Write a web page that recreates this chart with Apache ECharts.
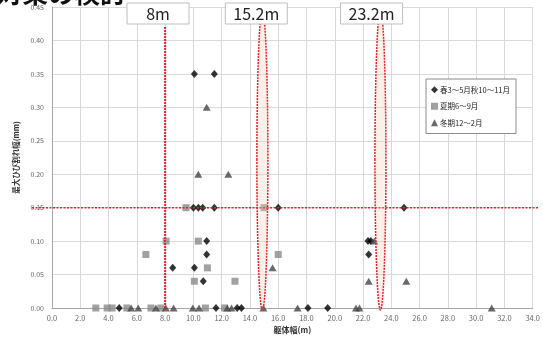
<!DOCTYPE html>
<html>
<head>
<meta charset="utf-8">
<script src="https://cdn.jsdelivr.net/npm/echarts@6/dist/echarts.min.js"></script>
<style>
  html, body { margin: 0; padding: 0; background: #fff; }
  #main { width: 543px; height: 340px; }
</style>
</head>
<body>
<div id="main"></div>
<script>
// 春・秋 (◆)
var springX = [10.07, 11.48, 10.0, 10.35, 10.66, 11.48, 16.0, 24.9, 10.94, 22.35, 22.55, 10.94, 22.4, 8.54, 10.07, 10.7, 4.75, 11.6, 13.1, 13.4, 18.1, 19.5];
var springY = [0.35, 0.35, 0.15, 0.15, 0.15, 0.15, 0.15, 0.15, 0.10, 0.10, 0.10, 0.08, 0.08, 0.06, 0.06, 0.04, 0, 0, 0, 0, 0, 0];
// 夏期 (■)
var summerX = [9.48, 15.0, 8.07, 10.35, 6.64, 16.0, 10.99, 10.07, 12.94, 3.1, 3.9, 4.25, 5.3, 7.0, 7.7, 10.85, 12.2];
var summerY = [0.15, 0.15, 0.10, 0.10, 0.08, 0.08, 0.06, 0.04, 0.04, 0, 0, 0, 0, 0, 0, 0, 0];
// 冬期 (▲)
var winterX = [10.94, 10.35, 12.47, 22.8, 15.6, 22.4, 25.06, 5.6, 6.1, 7.35, 8.05, 8.6, 9.96, 10.4, 12.4, 12.7, 14.95, 17.37, 21.5, 21.75, 31.1];
var winterY = [0.30, 0.20, 0.20, 0.10, 0.06, 0.04, 0.04, 0, 0, 0, 0, 0, 0, 0, 0, 0, 0, 0, 0, 0, 0];

var seriesNames = ['春3～5月秋10～11月', '夏期6～9月', '冬期12～2月'];
// 注記 (縦線・楕円の位置と見出し)
var markLabels = ['8m', '15.2m', '23.2m'];
var markLabelX = [7.5, 14.45, 22.6];
var lineX = 8;
var ellipseX = [14.88, 23.23];
var limitY = 0.15;

function zip(xs, ys) {
    return xs.map(function (x, i) { return [x, ys[i]]; });
}

var font = '"Noto Sans CJK JP", "Noto Sans", sans-serif';
var myChart = echarts.init(document.getElementById('main'));

var option = {
    animation: false,
    textStyle: { fontFamily: font },
    grid: { left: 52, right: 5, top: 7, bottom: 32 },
    legend: {
        orient: 'vertical',
        left: 426, top: 79,
        width: 100,
        backgroundColor: '#fff',
        borderColor: '#8c8c8c', borderWidth: 1,
        padding: [7, 6, 7, 5],
        itemGap: 9,
        itemWidth: 7, itemHeight: 7,
        textStyle: { fontSize: 7.5, color: '#222', padding: [0, 0, 0, -3] },
        data: [
            { name: seriesNames[0], icon: 'diamond' },
            { name: seriesNames[1], icon: 'rect' },
            { name: seriesNames[2], icon: 'triangle' }
        ]
    },
    xAxis: {
        type: 'value', min: 0, max: 34, interval: 2,
        name: '躯体幅(m)', nameLocation: 'middle', nameGap: 15,
        nameTextStyle: { fontSize: 8, fontWeight: 'bold', color: '#333' },
        axisLine: { lineStyle: { color: '#a6a6a6' } },
        axisTick: { show: false },
        axisLabel: { fontSize: 7.5, color: '#666', margin: 6, formatter: function (v) { return v.toFixed(1); } },
        splitLine: { lineStyle: { color: '#d9d9d9' } }
    },
    yAxis: {
        type: 'value', min: 0, max: 0.45, interval: 0.05,
        name: '最大ひび割れ幅(mm)', nameLocation: 'middle', nameGap: 31,
        nameTextStyle: { fontSize: 7.5, fontWeight: 'bold', color: '#333' },
        axisLine: { show: true, lineStyle: { color: '#a6a6a6' } },
        axisTick: { show: false },
        axisLabel: { fontSize: 7, color: '#666', margin: 8, formatter: function (v) { return v.toFixed(2); } },
        splitLine: { lineStyle: { color: '#d9d9d9' } }
    },
    series: [
        { name: seriesNames[0], type: 'scatter', symbol: 'diamond', symbolSize: [7, 8],
          itemStyle: { color: '#000' }, data: zip(springX, springY) },
        { name: seriesNames[1], type: 'scatter', symbol: 'rect', symbolSize: 7,
          itemStyle: { color: '#8a8a8a' }, data: zip(summerX, summerY) },
        { name: seriesNames[2], type: 'scatter', symbol: 'triangle', symbolSize: [8, 7],
          itemStyle: { color: '#444' }, data: zip(winterX, winterY) }
    ]
};
myChart.setOption(option);

// 赤い点線・楕円・見出しは軸から位置を求めて描く
function px(x, y) { return myChart.convertToPixel({ gridIndex: 0 }, [x, y]); }
var red = '#e8202a';
var graphics = [];

var hLeft = px(0, limitY), hRight = px(34, limitY);
graphics.push({ type: 'line', z: 50,
    shape: { x1: hLeft[0] - 20, y1: hLeft[1], x2: hRight[0] + 6, y2: hRight[1] },
    style: { stroke: red, lineWidth: 1.5, lineDash: [2, 1.5] } });

var vTop = px(lineX, 0.42), vBot = px(lineX, 0);
graphics.push({ type: 'line', z: 50,
    shape: { x1: vTop[0], y1: vTop[1], x2: vBot[0], y2: vBot[1] },
    style: { stroke: red, lineWidth: 2, lineDash: [2, 1] } });

ellipseX.forEach(function (ex) {
    var top = px(ex, 0.445), bot = px(ex, -0.003);
    graphics.push({ type: 'ellipse', z: 51,
        shape: { cx: top[0], cy: (top[1] + bot[1]) / 2, rx: 5.5, ry: (bot[1] - top[1]) / 2 },
        style: { fill: 'rgba(250,205,180,0.3)', stroke: red, lineWidth: 1.5, lineDash: [2, 1] } });
});

markLabels.forEach(function (t, i) {
    var c = px(markLabelX[i], 0);
    graphics.push({ type: 'rect', z: 60,
        shape: { x: c[0] - 31, y: 3, width: 62, height: 21 },
        style: { fill: '#fff', stroke: '#bfbfbf', lineWidth: 1 } });
    graphics.push({ type: 'text', z: 61, x: c[0], y: 14,
        style: { text: t, fontSize: 16, fontFamily: font, fill: '#222', align: 'center', verticalAlign: 'middle' } });
});

// 上端で切れているスライド見出し
graphics.push({ type: 'text', z: 70, left: -4, top: -20,
    style: { text: '対策の検討', fontSize: 26, fontWeight: 'bold', fontFamily: font, fill: '#111' } });

myChart.setOption({ graphic: graphics });

window.onresize = function () {
    myChart.resize();
};
</script>
</body>
</html>
